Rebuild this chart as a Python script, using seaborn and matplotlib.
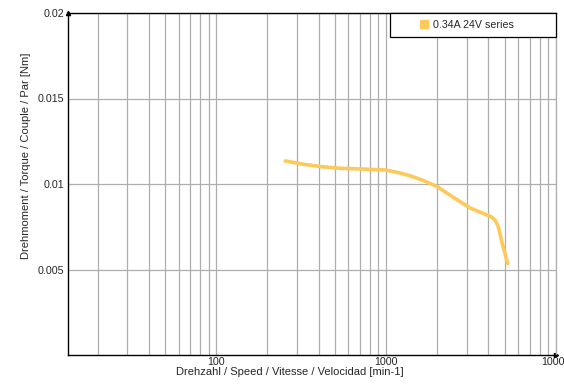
import seaborn as sns
import matplotlib.pyplot as plt
import pandas as pd
from matplotlib.patches import Rectangle

# Kennlinie 0.34A 24V
speed = [255, 315, 410, 535, 707, 993, 1190, 1395, 1660, 2005, 2460, 3150, 3680, 4135, 4370, 4560, 4800, 5190]
torque = [0.01135, 0.01118, 0.01102, 0.01092, 0.01088, 0.01082, 0.01066, 0.01047, 0.01020, 0.00984, 0.00925, 0.00858, 0.00830, 0.00810, 0.00790, 0.00755, 0.00660, 0.00536]
series = "0.34A 24V series"

y_ticks = [0.005, 0.01, 0.015, 0.02]
y_labels = ["0.005", "0.01", "0.015", "0.02"]
x_ticks = [100, 1000, 10000]
x_labels = ["100", "1000", "10000"]

df = pd.DataFrame({"speed": speed, "torque": torque, "series": series})

sns.set_style("white")
plt.rcParams['font.family'] = ['Liberation Sans', 'DejaVu Sans']

f, ax = plt.subplots(figsize=(5.64, 3.85), dpi=100)
f.subplots_adjust(left=68 / 564, right=556 / 564, top=1 - 13 / 385, bottom=1 - 355 / 385)

sns.lineplot(data=df, x="speed", y="torque", hue="series", palette=["#fdc95a"],
             linewidth=2.6, ax=ax, legend=False, sort=False)

ax.set_xscale("log")
ax.set_xlim(13.4, 10000)
ax.set_ylim(0, 0.02)

ax.set_xticks(x_ticks)
ax.set_xticklabels(x_labels)
ax.set_yticks(y_ticks)
ax.set_yticklabels(y_labels)
ax.tick_params(axis="both", which="both", length=0, labelsize=7.7, pad=3)
ax.tick_params(axis="x", pad=1.5)

ax.grid(True, which="both", axis="x", color="#aeaeae", linewidth=0.9)
ax.grid(True, which="major", axis="y", color="#aeaeae", linewidth=0.9)
ax.set_axisbelow(True)

for side in ["left", "bottom", "top"]:
    ax.spines[side].set_color("black")
    ax.spines[side].set_linewidth(1.0)
ax.spines["right"].set_color("#aeaeae")
ax.spines["right"].set_linewidth(0.9)

# kleine Pfeile an den Achsenenden
ax.plot(0, 1, marker="^", color="black", markersize=3, transform=ax.transAxes, clip_on=False)
ax.plot(1, 0, marker=">", color="black", markersize=3, transform=ax.transAxes, clip_on=False)

ax.set_xlabel("Drehzahl / Speed / Vitesse / Velocidad [min-1]", fontsize=8, labelpad=0)
ax.xaxis.set_label_coords(0.455, -0.034, transform=ax.transAxes)
ax.xaxis.label.set_va("top")
ax.set_ylabel("Drehmoment / Torque / Couple / Par [Nm]", fontsize=8)
ax.yaxis.set_label_coords(-0.076, 0.582)

# Legende mit Rahmen
ax.add_patch(Rectangle((0.66, 0.93), 0.34, 0.07, transform=ax.transAxes, facecolor="white",
                       edgecolor="black", linewidth=0.9, clip_on=False, zorder=5))
leg_handle = plt.Line2D([], [], marker="s", linestyle="none", color="#fdc95a", markersize=5.5)
leg = ax.legend([leg_handle], [series], loc="center left", bbox_to_anchor=(0.718, 0.965),
                fontsize=7.7, frameon=False, borderpad=0, handletextpad=0.4,
                borderaxespad=0, handlelength=1.0)
leg.set_zorder(6)

plt.savefig("out.png", dpi=100)
